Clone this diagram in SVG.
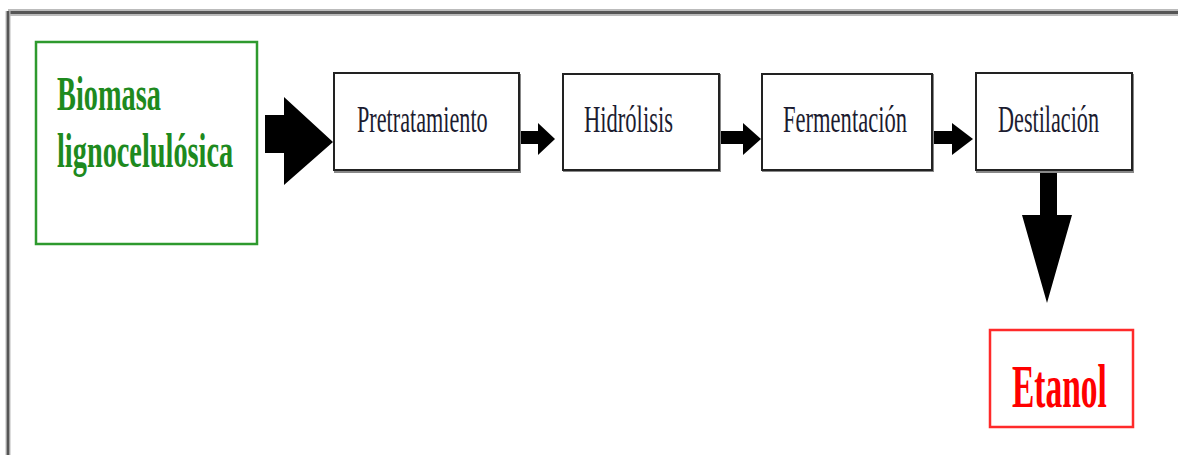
<svg xmlns="http://www.w3.org/2000/svg" width="1178" height="455" viewBox="0 0 1178 455">
<style>
.box{fill:#fff;stroke:#222;stroke-width:2}
.shadow{fill:#888}
.lbl{font-family:"Liberation Serif","Times New Roman",serif;font-size:37px;fill:#1c1c30}
.green{font-weight:bold;font-size:48px;fill:#1e8a1e}
.red{font-weight:bold;font-size:62px;fill:#ff0000}
.arrow{fill:#000}
</style>
<rect width="1178" height="455" fill="#fff"/>
<g id="frame">
<line x1="8" y1="12.5" x2="1178" y2="12.5" stroke="#bbb" stroke-width="7"/>
<line x1="8" y1="12.5" x2="1178" y2="12.5" stroke="#555" stroke-width="3"/>
<line x1="8" y1="11" x2="8" y2="455" stroke="#bbb" stroke-width="5"/>
<line x1="8" y1="11" x2="8" y2="455" stroke="#555" stroke-width="2.5"/>
</g>
<g id="connectors">
<polygon class="arrow" points="265,115 284,115 284,97 333,142 284,185 284,153 265,153"/>
<polygon class="arrow" points="520,131 538,131 538,123 555,139 538,155 538,144 520,144"/>
<polygon class="arrow" points="720,131 743,131 743,123 761,139 743,155 743,144 720,144"/>
<polygon class="arrow" points="933,131 952,131 952,123 973,139 952,155 952,144 933,144"/>
<polygon class="arrow" points="1040,172 1057,172 1057,215 1072,215 1047,303 1022,215 1040,215"/>
</g>
<g id="biomasa">
<rect x="36" y="42" width="221" height="202" fill="#fff" stroke="#2e9a2e" stroke-width="2.5"/>
<text class="lbl green" transform="translate(57,110) scale(0.59,1)">Biomasa</text>
<text class="lbl green" transform="translate(57,167) scale(0.59,1)">lignocelulósica</text>
</g>
<g id="pretratamiento">
<rect class="shadow" x="334" y="74" width="187" height="99"/>
<rect class="box" x="334" y="73" width="185" height="97"/>
<text class="lbl" transform="translate(357,132) scale(0.6,1)">Pretratamiento</text>
</g>
<g id="hidrolisis">
<rect class="shadow" x="563" y="74" width="158" height="98"/>
<rect class="box" x="563" y="74" width="156" height="96"/>
<text class="lbl" transform="translate(584,132) scale(0.61,1)">Hidrólisis</text>
</g>
<g id="fermentacion">
<rect class="shadow" x="762" y="74" width="172" height="98"/>
<rect class="box" x="762" y="74" width="170" height="96"/>
<text class="lbl" transform="translate(783,132) scale(0.61,1)">Fermentación</text>
</g>
<g id="destilacion">
<rect class="shadow" x="976" y="74" width="158" height="99"/>
<rect class="box" x="976" y="73" width="156" height="97"/>
<text class="lbl" transform="translate(998,132) scale(0.6,1)">Destilación</text>
</g>
<g id="etanol">
<rect x="990" y="330" width="143" height="97" fill="#fff" stroke="#ff2a2a" stroke-width="2.5"/>
<text class="lbl red" transform="translate(1012,407) scale(0.54,1)">Etanol</text>
</g>
</svg>
